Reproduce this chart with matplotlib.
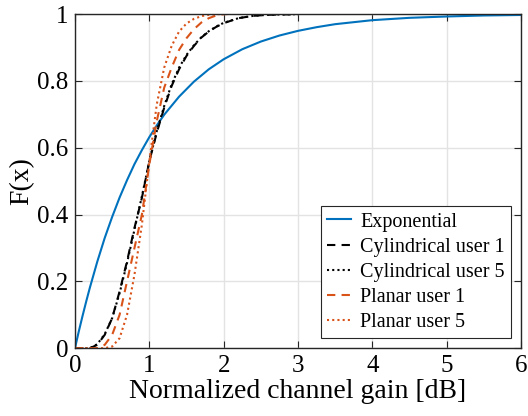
import matplotlib
matplotlib.use("Agg")
import matplotlib.pyplot as plt

# values
exp_x = [0, 0.05, 0.1, 0.15, 0.2, 0.3, 0.4, 0.5, 0.6, 0.7, 0.8, 0.9, 1.0, 1.1,
         1.2, 1.4, 1.6, 1.8, 2.0, 2.25, 2.5, 2.75, 3.0, 3.25, 3.5, 3.75, 4.0,
         4.5, 5.0, 5.5, 6.0]
exp_F = [0, 0.049, 0.095, 0.139, 0.181, 0.259, 0.33, 0.393, 0.451, 0.503,
         0.551, 0.593, 0.632, 0.667, 0.699, 0.753, 0.798, 0.835, 0.865, 0.895,
         0.918, 0.936, 0.950, 0.961, 0.970, 0.976, 0.982, 0.989, 0.993, 0.996,
         0.9975]

cyl_x = [0, 0.2, 0.3, 0.4, 0.5, 0.6, 0.7, 0.8, 0.9, 1.0, 1.1, 1.2, 1.3, 1.4,
         1.5, 1.6, 1.7, 1.8, 1.9, 2.0, 2.2, 2.4, 2.6, 2.8, 3.0]
cyl1_F = [0, 0, 0.01, 0.04, 0.09, 0.17, 0.26, 0.36, 0.45, 0.56, 0.645, 0.72,
          0.785, 0.835, 0.875, 0.905, 0.93, 0.948, 0.962, 0.973, 0.988, 0.995,
          0.998, 0.999, 1.0]
cyl5_F = [0, 0, 0.012, 0.042, 0.09, 0.165, 0.255, 0.355, 0.455, 0.56, 0.65,
          0.725, 0.79, 0.84, 0.878, 0.907, 0.931, 0.949, 0.963, 0.974, 0.988,
          0.995, 0.998, 0.999, 1.0]

pl1_x = [0, 0.3, 0.4, 0.5, 0.6, 0.7, 0.8, 0.9, 1.0, 1.1, 1.2, 1.3, 1.4, 1.5,
         1.6, 1.7, 1.8, 1.9, 2.0, 2.05]
pl1_F = [0, 0, 0.01, 0.04, 0.10, 0.20, 0.30, 0.40, 0.55, 0.68, 0.78, 0.84,
         0.893, 0.928, 0.955, 0.975, 0.988, 0.996, 1.0, 1.0]

pl5_x = [0, 0.4, 0.5, 0.6, 0.7, 0.8, 0.9, 1.0, 1.1, 1.2, 1.3, 1.4, 1.5, 1.6,
         1.7, 1.8, 1.9, 2.0]
pl5_F = [0, 0, 0.005, 0.03, 0.10, 0.22, 0.37, 0.56, 0.73, 0.84, 0.905, 0.948,
         0.972, 0.986, 0.994, 0.998, 1.0, 1.0]

labels = ["Exponential", "Cylindrical user 1", "Cylindrical user 5",
          "Planar user 1", "Planar user 5"]

plt.rcParams["font.family"] = ["Liberation Serif", "DejaVu Serif"]

blue = "#0072BD"
orange = "#D95319"

fig = plt.figure(figsize=(5.28, 4.16), dpi=100)
ax = fig.add_axes([0.142, 0.163, 0.845, 0.803])

ax.plot(exp_x, exp_F, color=blue, lw=1.5, label=labels[0])
ax.plot(cyl_x, cyl1_F, color="black", lw=1.5, ls=(0, (4, 3)), label=labels[1])
ax.plot(cyl_x, cyl5_F, color="black", lw=1.5, ls=(0, (1, 1.5)), label=labels[2])
ax.plot(pl1_x, pl1_F, color=orange, lw=1.5, ls=(0, (4, 3)), label=labels[3])
ax.plot(pl5_x, pl5_F, color=orange, lw=1.5, ls=(0, (1, 1.5)), label=labels[4])

ax.set_xlim(0, 6)
ax.set_ylim(0, 1)
ax.set_xticks(range(0, 7))
ax.set_yticks([0, 0.2, 0.4, 0.6, 0.8, 1])
ax.set_yticklabels(["0", "0.2", "0.4", "0.6", "0.8", "1"])
ax.grid(True, color="#e3e3e3", lw=1)
ax.set_axisbelow(True)
ax.tick_params(direction="in", top=True, right=True, labelsize=18,
               length=5, width=0.8, color="#262626", pad=5)
for s in ax.spines.values():
    s.set_color("#262626")
    s.set_linewidth(1.0)

ax.set_xlabel("Normalized channel gain [dB]", fontsize=20, labelpad=1)
ax.set_ylabel("F(x)", fontsize=20, labelpad=2)

leg = ax.legend(loc="lower right", fontsize=14.5, fancybox=False,
                framealpha=1, edgecolor="#262626", handlelength=1.2,
                handletextpad=0.45, borderpad=0.3, labelspacing=0.3,
                borderaxespad=0.5)
leg.get_frame().set_linewidth(0.8)

fig.savefig("out.png", dpi=100)
